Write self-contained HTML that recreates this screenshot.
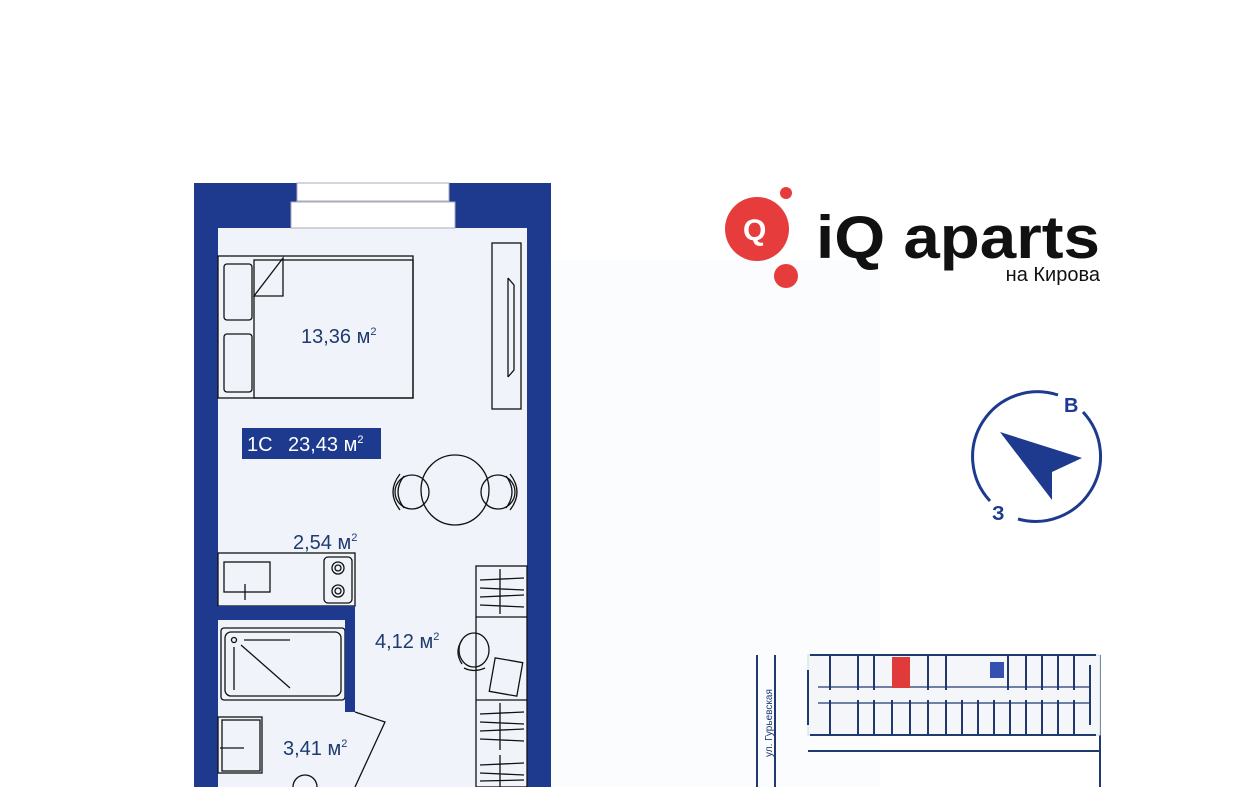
<!DOCTYPE html>
<html><head><meta charset="utf-8"><style>
html,body{margin:0;padding:0;background:#fff;width:1241px;height:787px;overflow:hidden}
svg{display:block}
text{font-family:"Liberation Sans",sans-serif}
</style></head><body>
<svg width="1241" height="787" viewBox="0 0 1241 787" xmlns="http://www.w3.org/2000/svg">
<rect x="540" y="260" width="340" height="527" fill="#fbfcfe"/>
<rect x="194" y="183" width="357" height="604" fill="#1e3a8f"/>
<rect x="218" y="228" width="309" height="559" fill="#f0f4fa"/>
<rect x="297" y="183" width="152" height="18" fill="#fff" stroke="#aab" stroke-width="1"/>
<rect x="291" y="202" width="164" height="26" fill="#fff" stroke="#aab" stroke-width="1"/>
<g fill="none" stroke="#111" stroke-width="1.3">
<rect x="218" y="256" width="195" height="142"/>
<rect x="254" y="260" width="159" height="138"/>
<rect x="224" y="264" width="28" height="56" rx="3"/>
<rect x="224" y="334" width="28" height="58" rx="3"/>
<path d="M254 296 L283 258 L283 296 Z"/>
<rect x="492" y="243" width="29" height="166"/>
<path d="M508 278 L508 377 M508 278 L514 285 L514 370 L508 377"/>
<ellipse cx="455" cy="490" rx="34" ry="35"/>
<circle cx="412" cy="492" r="17"/>
<circle cx="498" cy="492" r="17"/>
<path d="M400 474 Q386 492 400 510 M404 476 Q392 492 404 508"/>
<path d="M510 474 Q524 492 510 510 M506 476 Q518 492 506 508"/>
<rect x="218" y="553" width="137" height="53"/>
<rect x="224" y="562" width="46" height="30"/>
<path d="M245 584 L245 600"/>
<rect x="324" y="557" width="28" height="46" rx="4"/>
<circle cx="338" cy="568" r="6"/><circle cx="338" cy="568" r="3"/>
<circle cx="338" cy="591" r="6"/><circle cx="338" cy="591" r="3"/>
<rect x="221" y="628" width="124" height="72" rx="3"/>
<rect x="225" y="632" width="116" height="64" rx="6"/>
<circle cx="234" cy="640" r="2.5"/>
<path d="M244 640 L290 640 M234 647 L234 690 M241 645 L290 688"/>
<rect x="218" y="717" width="44" height="56"/>
<rect x="222" y="720" width="38" height="51"/>
<path d="M220 748 L244 748"/>
<path d="M355 712 L385 722 L355 787"/>
<circle cx="305" cy="787" r="12"/>
<rect x="476" y="566" width="51" height="221"/>
<path d="M476 617 L527 617 M476 700 L527 700"/>
<path d="M500 569 L500 614 M480 580 L524 578 M480 588 L524 590 M480 597 L524 595 M480 605 L524 607"/>
<path d="M500 703 L500 750 M480 714 L524 712 M480 722 L524 724 M480 731 L524 729 M480 739 L524 741"/>
<path d="M500 755 L500 787 M480 765 L524 763 M480 773 L524 775 M480 781 L524 780"/>
<rect x="492" y="660" width="28" height="34" transform="rotate(10 506 677)"/>
<ellipse cx="474" cy="650" rx="15" ry="17"/>
<path d="M462 640 Q454 652 462 664 M464 668 Q474 673 485 668"/>
</g>
<rect x="218" y="606" width="137" height="14" fill="#1e3a8f"/>
<rect x="345" y="606" width="10" height="106" fill="#1e3a8f"/>
<g fill="#1e3a6f" font-size="20">
<text x="301" y="343">13,36  м<tspan font-size="11" dy="-8">2</tspan></text>
<text x="293" y="549">2,54 м<tspan font-size="11" dy="-8">2</tspan></text>
<text x="375" y="648">4,12 м<tspan font-size="11" dy="-8">2</tspan></text>
<text x="283" y="755">3,41 м<tspan font-size="11" dy="-8">2</tspan></text>
</g>
<rect x="242" y="428" width="139" height="31" fill="#1e3a8f"/>
<text x="247" y="451" fill="#fff" font-size="20">1С</text>
<text x="288" y="451" fill="#fff" font-size="20">23,43 м<tspan font-size="11" dy="-8">2</tspan></text>
<circle cx="757" cy="229" r="32" fill="#e63c3c"/>
<circle cx="786" cy="193" r="6" fill="#e63c3c"/>
<circle cx="786" cy="276" r="12" fill="#e63c3c"/>
<text x="743" y="240" fill="#fff" font-size="30" font-weight="bold">Q</text>
<text x="816" y="258" fill="#111" font-size="60" font-weight="bold" textLength="284" lengthAdjust="spacingAndGlyphs">iQ aparts</text>
<text x="1100" y="281" fill="#111" font-size="20" text-anchor="end">на Кирова</text>
<path d="M1058 395 A65 65 0 0 0 990 501" fill="none" stroke="#1e3a8f" stroke-width="3"/>
<path d="M1083 412 A65 65 0 0 1 1018 519" fill="none" stroke="#1e3a8f" stroke-width="3"/>
<path d="M1000 432 L1082 458 L1052 472 L1052 500 Z" fill="#1e3a8f"/>
<text x="1064" y="412" fill="#1e3a8f" font-size="20" font-weight="bold">В</text>
<text x="992" y="520" fill="#1e3a8f" font-size="20" font-weight="bold">З</text>
<g stroke="#1e3a6f" stroke-width="2" fill="none">
<path d="M757 655 L757 787 M775 655 L775 787 M808 751 L1100 751 M1100 655 L1100 787"/>
</g>
<rect x="808" y="655" width="292" height="80" fill="#f4f6fa" stroke="#cdd" stroke-width="1"/>
<g stroke="#1e3a6f" stroke-width="2">
<path d="M810 655 L1096 655 M810 735 L1096 735 M808 670 L808 725 M1090 665 L1090 725"/>
<path d="M818 687 L1090 687 M818 703 L1090 703" stroke-width="1.2"/>
<path d="M830 655 L830 690 M858 655 L858 690 M874 655 L874 690 M928 655 L928 690 M946 655 L946 690 M1008 655 L1008 690 M1026 655 L1026 690 M1042 655 L1042 690 M1058 655 L1058 690 M1074 655 L1074 690"/>
<path d="M830 700 L830 735 M858 700 L858 735 M874 700 L874 735 M892 700 L892 735 M910 700 L910 735 M928 700 L928 735 M946 700 L946 735 M962 700 L962 735 M978 700 L978 735 M994 700 L994 735 M1010 700 L1010 735 M1026 700 L1026 735 M1042 700 L1042 735 M1058 700 L1058 735 M1074 700 L1074 735"/>
</g>
<rect x="892" y="657" width="18" height="31" fill="#e03a3a"/>
<rect x="990" y="662" width="14" height="16" fill="#3450b0"/>
<text transform="translate(772 757) rotate(-90)" fill="#1e3a6f" font-size="10">ул. Гурьевская</text>
</svg>
</body></html>
